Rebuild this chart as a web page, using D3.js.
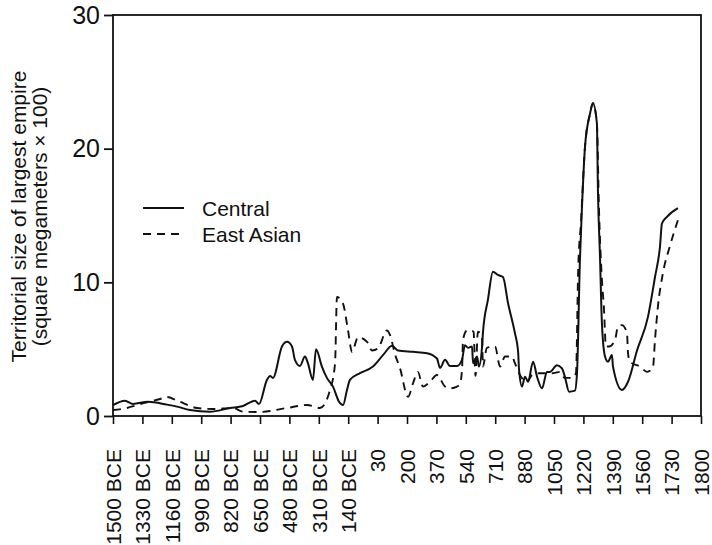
<!DOCTYPE html>
<html>
<head>
<meta charset="utf-8">
<script src="https://cdn.jsdelivr.net/npm/d3@7"></script>
<style>
  html, body { margin: 0; padding: 0; background: #fff; }
  svg { display: block; font-family: "Liberation Sans", Arial, Helvetica, sans-serif; }
</style>
</head>
<body>
<svg id="chart" width="712" height="545"></svg>
<script>
// Tick positions on the time axis (BCE years are negative) and their printed labels
const tickYears = [-1500, -1330, -1160, -990, -820, -650, -480, -310, -140, 30, 200, 370, 540, 710, 880, 1050, 1220, 1390, 1560, 1730, 1800];
const tickLabels = ["1500 BCE", "1330 BCE", "1160 BCE", "990 BCE", "820 BCE", "650 BCE", "480 BCE", "310 BCE", "140 BCE", "30", "200", "370", "540", "710", "880", "1050", "1220", "1390", "1560", "1730", "1800"];
const yTicks = [0, 10, 20, 30];

const seriesNames = ["Central", "East Asian"];

// Territorial size of the largest Central empire, [year, square megameters x 100]
const central = [
  [-1500, 0.82], [-1431, 1.15], [-1384, 0.9], [-1298, 1.07], [-1188, 0.85], [-1130, 0.7],
  [-1055, 0.45], [-939, 0.32], [-823, 0.6], [-748, 0.75], [-679, 1.15], [-656, 0.9],
  [-610, 2.7], [-592, 3.0], [-575, 2.85], [-523, 5.2], [-494, 5.55], [-465, 5.2],
  [-448, 4.2], [-419, 3.74], [-390, 4.45], [-373, 3.95], [-344, 2.7], [-326, 5.0],
  [-292, 3.7], [-263, 2.85], [-228, 2.2], [-193, 1.07], [-170, 0.82], [-147, 1.95],
  [-130, 2.7], [-72, 3.2], [3, 3.7], [61, 4.55], [114, 5.25], [148, 4.9], [235, 4.8],
  [316, 4.7], [373, 4.3], [391, 3.6], [420, 4.2], [449, 3.74], [489, 3.74], [518, 4.2],
  [535, 5.3], [553, 5.1], [576, 5.2], [582, 3.95], [605, 4.45], [616, 3.7], [634, 5.2],
  [639, 6.2], [668, 8.7], [697, 10.8], [726, 10.55], [755, 10.4], [784, 8.45], [824, 6.2],
  [842, 4.9], [848, 3.44], [865, 2.2], [882, 2.94], [900, 2.56], [929, 4.06], [952, 2.94],
  [981, 2.07], [1009, 3.3], [1027, 3.3], [1067, 3.8], [1096, 3.56], [1113, 2.94],
  [1137, 1.82], [1171, 1.9], [1183, 3.2], [1200, 11.7], [1212, 15.7], [1229, 20.1],
  [1258, 22.6], [1275, 23.4], [1298, 21.9], [1304, 16.9], [1316, 11.9], [1327, 6.95],
  [1345, 4.45], [1362, 4.06], [1385, 4.56], [1391, 3.7], [1443, 1.95], [1478, 2.56],
  [1530, 4.9], [1593, 7.4], [1634, 10.4], [1663, 12.7], [1674, 14.4], [1703, 14.9],
  [1745, 15.55]
];

// Territorial size of the largest East Asian empire, [year, square megameters x 100]
const eastAsian = [
  [-1500, 0.45], [-1419, 0.6], [-1361, 0.82], [-1228, 1.27], [-1188, 1.42], [-1130, 1.15],
  [-1014, 0.6], [-922, 0.52], [-806, 0.6], [-748, 0.32], [-650, 0.3], [-494, 0.6],
  [-378, 0.82], [-303, 0.6], [-245, 1.95], [-216, 3.95], [-205, 8.9], [-170, 8.4],
  [-141, 6.4], [-118, 4.8], [-83, 5.9], [-31, 5.55], [-2, 4.9], [32, 5.05], [84, 6.4],
  [102, 6.05], [131, 4.6], [159, 3.6], [206, 1.44], [235, 2.45], [263, 3.3], [292, 2.2],
  [333, 2.56], [373, 3.07], [420, 2.2], [449, 2.07], [489, 2.2], [506, 2.4], [518, 3.44],
  [524, 5.7], [547, 6.4], [570, 6.4], [585, 6.3], [596, 3.0], [610, 6.3], [634, 5.9],
  [639, 3.7], [662, 5.1], [709, 5.2], [738, 3.7], [767, 4.45], [807, 4.45], [824, 3.95],
  [853, 3.07], [894, 2.56], [923, 3.07], [958, 3.2], [1038, 3.2], [1085, 3.3], [1113, 2.85],
  [1154, 2.85], [1177, 3.2], [1190, 11.0], [1206, 14.5], [1229, 20.1], [1258, 22.6],
  [1275, 23.4], [1298, 21.9], [1310, 15.5], [1327, 10.2], [1339, 8.0], [1350, 5.2],
  [1368, 5.2], [1403, 5.7], [1420, 6.7], [1443, 6.8], [1472, 6.2], [1478, 4.7],
  [1489, 4.06], [1547, 3.7], [1588, 3.3], [1622, 3.6], [1634, 5.7], [1651, 8.2],
  [1680, 10.7], [1720, 12.7], [1745, 14.65]
];

const svg = d3.select("#chart");
const margin = { left: 113, right: 11, top: 15, bottom: 129 };
const W = 712, H = 545;
const x0 = margin.left, x1 = W - margin.right;
const y0 = H - margin.bottom, y1 = margin.top;
const ink = "#111";

// Ticks are evenly spaced along the axis
const step = (x1 - x0) / (tickYears.length - 1);
const x = d3.scaleLinear()
  .domain(tickYears)
  .range(tickYears.map((d, i) => x0 + i * step));
const y = d3.scaleLinear().domain([0, 30]).range([y0, y1]);

// Plot frame
svg.append("rect")
  .attr("x", x0).attr("y", y1)
  .attr("width", x1 - x0).attr("height", y0 - y1)
  .attr("fill", "none").attr("stroke", ink).attr("stroke-width", 1.8);

// Y axis
const yAxis = svg.append("g")
  .attr("transform", `translate(${x0},0)`)
  .call(d3.axisLeft(y).tickValues(yTicks).tickSize(9).tickPadding(4).tickFormat(d3.format("d")));
yAxis.select(".domain").remove();
yAxis.selectAll(".tick line").attr("stroke", ink).attr("stroke-width", 1.8);
yAxis.selectAll(".tick text")
  .attr("fill", ink)
  .style("font-size", "25px")
  .attr("font-family", null);

// X axis with rotated labels
const xAxis = svg.append("g")
  .attr("transform", `translate(0,${y0})`)
  .call(d3.axisBottom(x).tickValues(tickYears).tickSize(8)
    .tickFormat((d, i) => tickLabels[i]));
xAxis.select(".domain").remove();
xAxis.selectAll(".tick line").attr("stroke", ink).attr("stroke-width", 1.6);
xAxis.selectAll(".tick text")
  .attr("fill", ink)
  .attr("font-family", null)
  .style("font-size", "21px")
  .attr("text-anchor", "end")
  .attr("x", 0).attr("y", 0)
  .attr("dy", "0.35em")
  .attr("transform", "translate(0,33) rotate(-90)");

// Y axis title (two lines)
const title = svg.append("text")
  .attr("transform", `translate(0,${(y0 + y1) / 2 + 1}) rotate(-90)`)
  .attr("text-anchor", "middle")
  .attr("fill", ink)
  .style("font-size", "21px");
title.append("tspan").attr("x", 0).attr("y", 26).text("Territorial size of largest empire");
title.append("tspan").attr("x", 0).attr("y", 47).text("(square megameters \u00d7 100)");

// Series lines
const line = d3.line()
  .x(d => x(d[0]))
  .y(d => y(d[1]))
  .curve(d3.curveMonotoneX);

svg.append("path")
  .datum(eastAsian)
  .attr("d", line)
  .attr("fill", "none")
  .attr("stroke", ink)
  .attr("stroke-width", 1.9)
  .attr("stroke-dasharray", "8,6");

svg.append("path")
  .datum(central)
  .attr("d", line)
  .attr("fill", "none")
  .attr("stroke", ink)
  .attr("stroke-width", 2)
  .attr("stroke-linejoin", "round");

// Legend
const legend = svg.append("g").attr("transform", "translate(143,208)");
seriesNames.forEach((name, i) => {
  const g = legend.append("g").attr("transform", `translate(0,${i * 26})`);
  g.append("line")
    .attr("x1", 0).attr("x2", 41).attr("y1", 0).attr("y2", 0)
    .attr("stroke", ink).attr("stroke-width", 1.9)
    .attr("stroke-dasharray", i === 0 ? null : "8,6");
  g.append("text")
    .attr("x", 59).attr("y", 8)
    .attr("fill", ink)
    .style("font-size", "21px")
    .text(name);
});
</script>
</body>
</html>
